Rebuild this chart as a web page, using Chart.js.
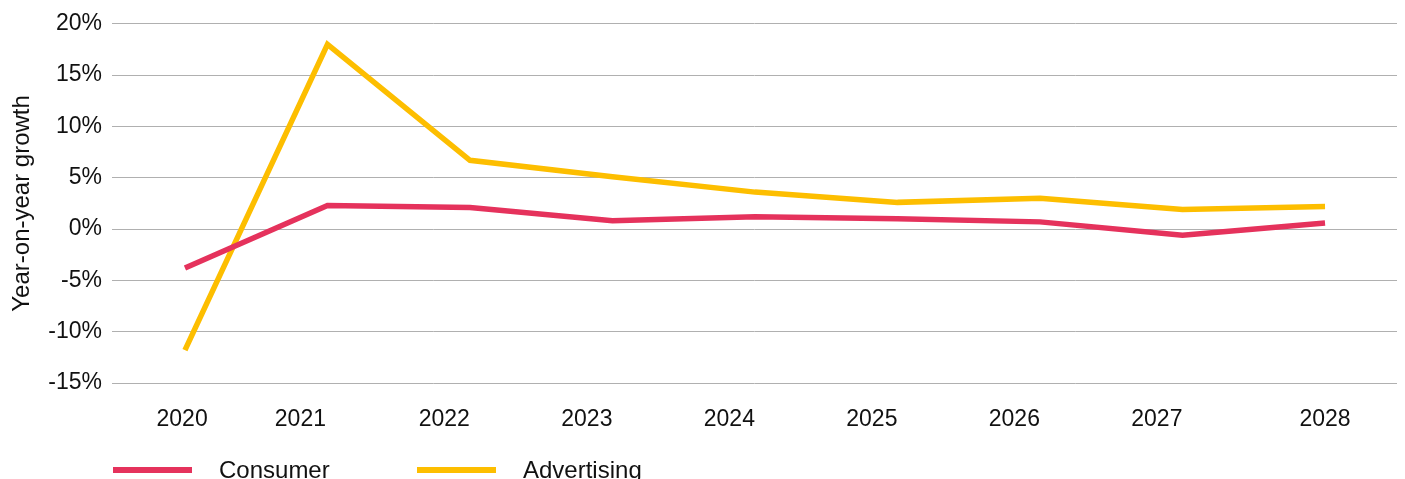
<!DOCTYPE html>
<html>
<head>
<meta charset="utf-8">
<script src="https://cdn.jsdelivr.net/npm/chart.js@4/dist/chart.umd.min.js"></script>
<style>
  html, body { margin: 0; padding: 0; background: #ffffff; }
  #wrap { position: relative; width: 1405px; height: 479px; }
</style>
</head>
<body>
<div id="wrap"><canvas id="growth"></canvas></div>
<script>
// Year-on-year growth, consumer vs advertising spend
const years = ['2020', '2021', '2022', '2023', '2024', '2025', '2026', '2027', '2028'];
const consumer = [-3.8, 2.3, 2.1, 0.8, 1.2, 1.0, 0.7, -0.6, 0.6];
const advertising = [-11.8, 18.0, 6.7, 5.1, 3.6, 2.6, 3.0, 1.9, 2.2];
const yTicks = [-15, -10, -5, 0, 5, 10, 15, 20];

// Layout: where each year label sits along the x axis (in year-index units)
const labelSlots = [-0.02, 0.81, 1.82, 2.82, 3.82, 4.82, 5.82, 6.82, 8.0];

const FONT = "'Liberation Sans', Arial, Helvetica, sans-serif";
const TEXT = '#111111';
const COLORS = { consumer: '#E5325C', advertising: '#FDBE00' };

const toPoints = arr => arr.map((v, i) => ({ x: i, y: v }));

// Legend drawn beneath the x axis: line swatch followed by the series name
const bottomLegend = {
  id: 'bottomLegend',
  afterDraw(chart) {
    const ctx = chart.ctx;
    const startX = 113, slot = 304, swatch = 79, gap = 27, lineY = 470, baseY = 478;
    ctx.save();
    ctx.font = '24px ' + FONT;
    ctx.textBaseline = 'alphabetic';
    ctx.textAlign = 'left';
    chart.data.datasets.forEach((ds, i) => {
      const x = startX + i * slot;
      ctx.strokeStyle = ds.borderColor;
      ctx.lineWidth = 6;
      ctx.lineCap = 'butt';
      ctx.beginPath();
      ctx.moveTo(x, lineY);
      ctx.lineTo(x + swatch, lineY);
      ctx.stroke();
      ctx.fillStyle = TEXT;
      ctx.fillText(ds.label, x + swatch + gap, baseY);
    });
    ctx.restore();
  }
};

new Chart(document.getElementById('growth'), {
  type: 'line',
  data: {
    datasets: [
      {
        label: 'Consumer',
        data: toPoints(consumer),
        borderColor: COLORS.consumer,
        backgroundColor: COLORS.consumer,
        borderWidth: 5.5,
        pointRadius: 0,
        tension: 0,
        borderJoinStyle: 'miter',
        borderCapStyle: 'butt',
        fill: false
      },
      {
        label: 'Advertising',
        data: toPoints(advertising),
        borderColor: COLORS.advertising,
        backgroundColor: COLORS.advertising,
        borderWidth: 5.5,
        pointRadius: 0,
        tension: 0,
        borderJoinStyle: 'miter',
        borderCapStyle: 'butt',
        fill: false
      }
    ]
  },
  options: {
    responsive: true,
    maintainAspectRatio: false,
    animation: false,
    events: [],
    layout: { padding: { left: 0, right: 8, top: 23, bottom: 0 } },
    plugins: {
      legend: { display: false },
      tooltip: { enabled: false }
    },
    scales: {
      x: {
        type: 'linear',
        min: -0.512,
        max: 8.505,
        afterBuildTicks: axis => { axis.ticks = labelSlots.map(v => ({ value: v })); },
        afterFit: axis => { axis.height = 96; },
        grid: { display: false, drawTicks: false },
        border: { display: false },
        ticks: {
          autoSkip: false,
          maxRotation: 0,
          padding: 23,
          color: TEXT,
          font: { family: FONT, size: 23 },
          callback: (value, index) => years[index]
        }
      },
      y: {
        min: yTicks[0],
        max: yTicks[yTicks.length - 1],
        afterBuildTicks: axis => { axis.ticks = yTicks.map(v => ({ value: v })); },
        afterFit: axis => { axis.width = 112; },
        grid: { color: '#b0b0b0', lineWidth: 1, drawTicks: false },
        border: { display: false },
        ticks: {
          padding: 10,
          color: TEXT,
          font: { family: FONT, size: 23 },
          callback: v => v + '%'
        },
        title: {
          display: true,
          text: 'Year-on-year growth',
          color: TEXT,
          font: { family: FONT, size: 24 },
          padding: { top: 8, bottom: 0 }
        }
      }
    }
  },
  plugins: [bottomLegend]
});
</script>
</body>
</html>
